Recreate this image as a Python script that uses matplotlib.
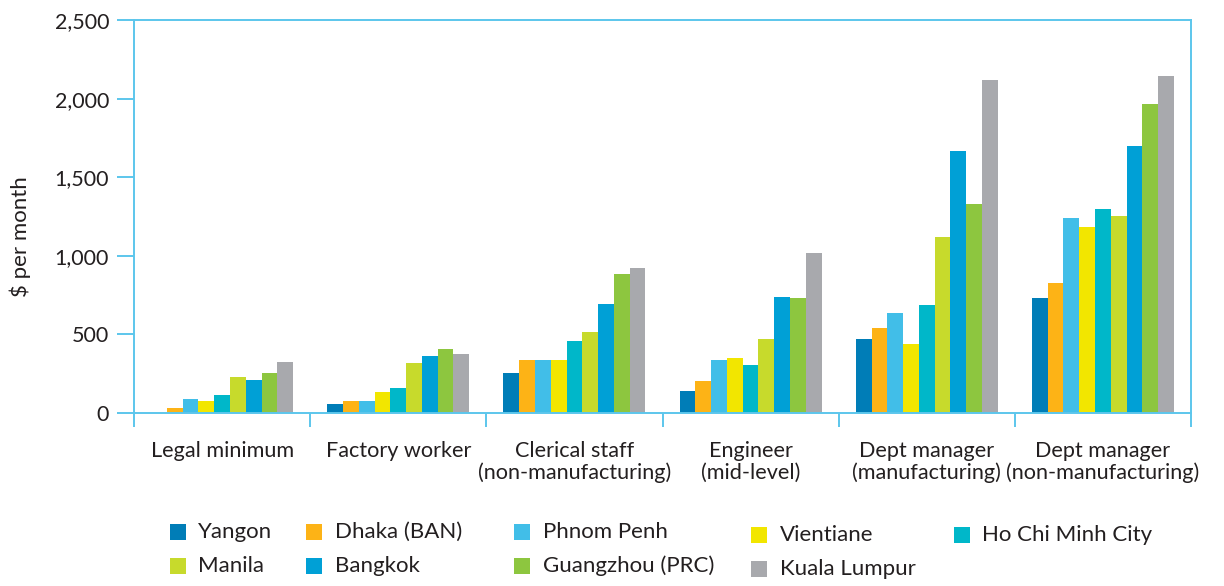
import numpy as np
import matplotlib
matplotlib.use("Agg")
import matplotlib.pyplot as plt
from matplotlib.patches import Rectangle
from matplotlib.ticker import FuncFormatter, FixedLocator

plt.rcParams['font.family'] = ['Lato', 'DejaVu Sans']

categories = [
    "Legal minimum",
    "Factory worker",
    "Clerical staff\n(non-manufacturing)",
    "Engineer\n(mid-level)",
    "Dept manager\n(manufacturing)",
    "Dept manager\n(non-manufacturing)",
]
cities = ["Yangon", "Dhaka (BAN)", "Phnom Penh", "Vientiane", "Ho Chi Minh City",
          "Manila", "Bangkok", "Guangzhou (PRC)", "Kuala Lumpur"]
colors = ["#007DB7", "#FDB316", "#41BEE8", "#F2E600", "#00B7C9",
          "#C7DA2C", "#00A0D6", "#8DC63F", "#A8A9AD"]

# $ per month, one list per city, across the six job categories
yangon = [0, 59, 257, 142, 473, 733]
dhaka = [34, 78, 339, 205, 543, 829]
phnom_penh = [91, 78, 339, 339, 638, 1242]
vientiane = [78, 136, 339, 352, 441, 1185]
hcmc = [116, 161, 460, 307, 689, 1299]
manila = [231, 320, 517, 473, 1121, 1255]
bangkok = [212, 365, 695, 740, 1668, 1700]
guangzhou = [257, 409, 886, 733, 1331, 1967]
kuala_lumpur = [326, 377, 924, 1020, 2120, 2145]
series = [yangon, dhaka, phnom_penh, vientiane, hcmc,
          manila, bangkok, guangzhou, kuala_lumpur]

W, H = 1224, 586
fig = plt.figure(figsize=(W / 100, H / 100), dpi=100)
ax = fig.add_axes([134 / W, 1 - 413 / H, (1191 - 134) / W, (413 - 20) / H])

edge = "#5CC6EC"
n = len(series)
bw = 0.0895
x = np.arange(len(categories))
for i, (vals, c) in enumerate(zip(series, colors)):
    ax.bar(x + (i - (n - 1) / 2) * bw, vals, width=bw, color=c, linewidth=0)

ax.set_xlim(-0.5, len(categories) - 0.5)
ax.set_ylim(0, 2500)
ax.set_yticks(np.arange(0, 2501, 500))
ax.yaxis.set_major_formatter(FuncFormatter(lambda v, p: f"{int(v):,}"))
ax.set_xticks(x)
ax.set_xticklabels(categories, fontsize=15.6, color="#231F20", linespacing=1.12)
ax.xaxis.set_minor_locator(FixedLocator(np.arange(-0.5, len(categories), 1.0)))
ax.tick_params(axis="x", which="major", length=0, pad=20)
ax.tick_params(axis="x", which="minor", length=10, width=1.4, color=edge)
ax.tick_params(axis="y", length=12, width=1.4, color=edge, labelsize=15.5,
               labelcolor="#231F20", pad=6)
for s in ax.spines.values():
    s.set_color(edge)
    s.set_linewidth(1.4)

ax.set_ylabel("$ per month", fontsize=16, color="#231F20")
ax.yaxis.set_label_coords(-0.097, 0.448)

# legend laid out by hand to follow the original arrangement
col_sq = [170, 306, 514, 751, 954]
col_txt = [198, 335, 543, 780, 982]
row_y = [[532, 566], [532, 566], [532, 566], [535, 569], [535, 569]]
order = [(0, 0), (1, 0), (2, 0), (3, 0), (4, 0),
         (0, 1), (1, 1), (2, 1), (3, 1)]
for (col, row), name, c in zip(order, cities, colors):
    yc = row_y[col][row]
    fig.add_artist(Rectangle((col_sq[col] / W, 1 - (yc + 8) / H), 16 / W, 16 / H,
                             transform=fig.transFigure, color=c, linewidth=0))
    fig.text(col_txt[col] / W, 1 - yc / H, name, fontsize=16, color="#231F20",
             va="center", ha="left")

fig.savefig("out.png", dpi=100)
